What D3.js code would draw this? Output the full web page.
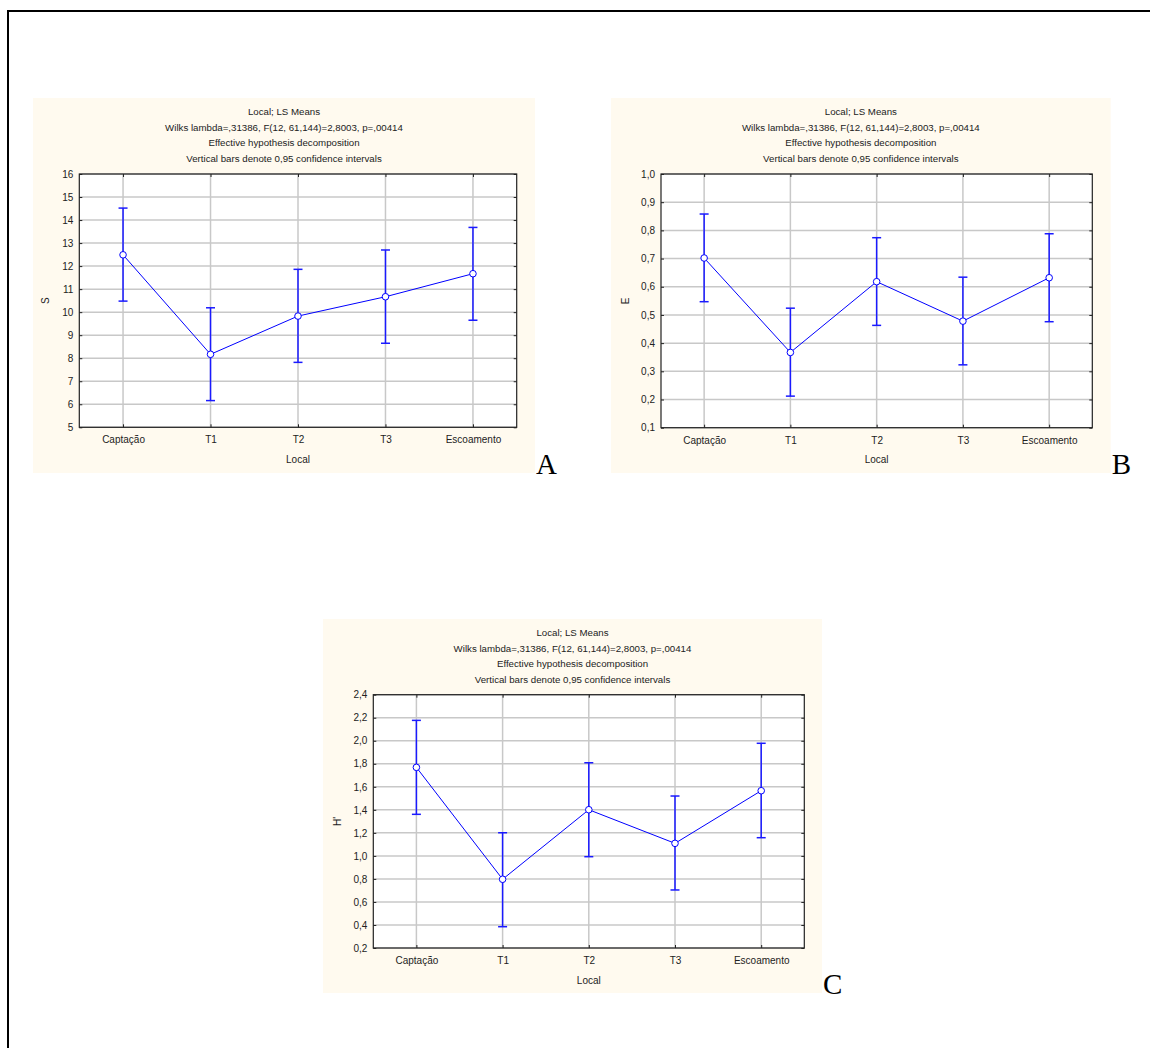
<!DOCTYPE html>
<html>
<head>
<meta charset="utf-8">
<script src="https://cdn.jsdelivr.net/npm/d3@7"></script>
<style>
  html, body { margin: 0; padding: 0; background: #ffffff; }
  svg { display: block; }
  text.sans { font-family: "Liberation Sans", Arial, sans-serif; }
  text.letter { font-family: "Liberation Serif", "Times New Roman", serif; }
</style>
</head>
<body>
<svg id="chart" width="1150" height="1048"></svg>
<script>
// ---- data ----
const categories = ["Captação", "T1", "T2", "T3", "Escoamento"];

const sMean  = [12.49, 8.17, 9.83, 10.67, 11.67];
const sLower = [10.48, 6.16, 7.82, 8.65, 9.65];
const sUpper = [14.52, 10.19, 11.86, 12.70, 13.68];

const eMean  = [0.702, 0.367, 0.618, 0.478, 0.632];
const eLower = [0.547, 0.212, 0.463, 0.323, 0.476];
const eUpper = [0.858, 0.524, 0.774, 0.634, 0.788];

const hMean  = [1.769, 0.797, 1.401, 1.109, 1.566];
const hLower = [1.361, 0.385, 0.993, 0.704, 1.158];
const hUpper = [2.177, 1.201, 1.809, 1.520, 1.978];

const sTicks = [5, 6, 7, 8, 9, 10, 11, 12, 13, 14, 15, 16];
const eTicks = [0.1, 0.2, 0.3, 0.4, 0.5, 0.6, 0.7, 0.8, 0.9, 1.0];
const hTicks = [0.2, 0.4, 0.6, 0.8, 1.0, 1.2, 1.4, 1.6, 1.8, 2.0, 2.2, 2.4];

const titleLines = [
  "Local; LS Means",
  "Wilks lambda=,31386, F(12, 61,144)=2,8003, p=,00414",
  "Effective hypothesis decomposition",
  "Vertical bars denote 0,95 confidence intervals"
];
const xTitle = "Local";

// ---- drawing ----
const svg = d3.select("#chart");

// outer frame
svg.append("path")
  .attr("d", "M8,1060 L8,11 L1160,11")
  .attr("fill", "none").attr("stroke", "#000").attr("stroke-width", 2);

const commaFmt = d => d.toFixed(1).replace(".", ",");

function panel(cfg) {
  const g = svg.append("g");
  // background
  g.append("rect")
    .attr("x", cfg.bg[0]).attr("y", cfg.bg[1])
    .attr("width", cfg.bg[2] - cfg.bg[0]).attr("height", cfg.bg[3] - cfg.bg[1])
    .attr("fill", "#fffaef");
  const cx = (cfg.bg[0] + cfg.bg[2]) / 2;
  titleLines.forEach((t, i) => {
    g.append("text").attr("class", "sans").attr("x", cx).attr("y", cfg.bg[1] + 17 + i * 15.5)
      .attr("text-anchor", "middle").attr("font-size", 9.7).attr("fill", "#222")
      .text(t);
  });

  const [x0, x1, y0, y1] = cfg.plot;
  g.append("rect").attr("x", x0).attr("y", y0)
    .attr("width", x1 - x0).attr("height", y1 - y0).attr("fill", "#fff");

  const x = d3.scalePoint().domain(categories).range([x0, x1]).padding(0.5);
  const y = d3.scaleLinear().domain(cfg.domain).range([y1, y0]);

  // grid
  g.append("g").selectAll("line.h").data(cfg.ticks).join("line")
    .attr("x1", x0).attr("x2", x1)
    .attr("y1", d => y(d)).attr("y2", d => y(d))
    .attr("stroke", "#c8c8c8").attr("stroke-width", 1.5);
  g.append("g").selectAll("line.v").data(categories).join("line")
    .attr("x1", d => x(d)).attr("x2", d => x(d))
    .attr("y1", y0).attr("y2", y1)
    .attr("stroke", "#c8c8c8").attr("stroke-width", 1.5);

  // axes
  const left = g.append("g").attr("transform", `translate(${x0},0)`)
    .call(d3.axisLeft(y).tickValues(cfg.ticks).tickFormat(cfg.fmt).tickSize(-3).tickPadding(6).tickSizeOuter(0));
  const right = g.append("g").attr("transform", `translate(${x1},0)`)
    .call(d3.axisRight(y).tickValues(cfg.ticks).tickFormat("").tickSize(-3).tickSizeOuter(0));
  const bottom = g.append("g").attr("transform", `translate(0,${y1})`)
    .call(d3.axisBottom(x).tickSize(-3).tickPadding(9).tickSizeOuter(0));
  const top = g.append("g").attr("transform", `translate(0,${y0})`)
    .call(d3.axisTop(x).tickFormat("").tickSize(-3).tickSizeOuter(0));
  [left, right, bottom, top].forEach(a => {
    a.selectAll(".domain").remove();
    a.selectAll(".tick line").attr("stroke", "#222");
    a.selectAll("text").attr("class", "sans").attr("font-size", 10).attr("fill", "#222");
  });
  g.append("rect").attr("x", x0).attr("y", y0)
    .attr("width", x1 - x0).attr("height", y1 - y0)
    .attr("fill", "none").attr("stroke", "#222").attr("stroke-width", 1.2);

  // axis titles
  g.append("text").attr("class", "sans").attr("x", (x0 + x1) / 2).attr("y", y1 + 35.5)
    .attr("text-anchor", "middle").attr("font-size", 10).attr("fill", "#222").text(xTitle);
  const ty = (y0 + y1) / 2;
  g.append("text").attr("class", "sans").attr("transform", `translate(${cfg.ytx},${ty}) rotate(-90)`)
    .attr("text-anchor", "middle").attr("font-size", 10).attr("fill", "#222").text(cfg.yTitle);

  // series
  const pts = categories.map((c, i) => ({ c, m: cfg.mean[i], lo: cfg.lower[i], hi: cfg.upper[i] }));
  g.append("path").datum(pts)
    .attr("d", d3.line().x(d => x(d.c)).y(d => y(d.m)))
    .attr("fill", "none").attr("stroke", "#0000ff").attr("stroke-width", 1);
  const eb = g.append("g").attr("stroke", "#1a1aff").attr("stroke-width", 1.5);
  eb.selectAll("line.bar").data(pts).join("line")
    .attr("x1", d => x(d.c)).attr("x2", d => x(d.c))
    .attr("y1", d => y(d.lo)).attr("y2", d => y(d.hi));
  eb.selectAll("line.capU").data(pts).join("line")
    .attr("x1", d => x(d.c) - 4.5).attr("x2", d => x(d.c) + 4.5)
    .attr("y1", d => y(d.hi)).attr("y2", d => y(d.hi));
  eb.selectAll("line.capL").data(pts).join("line")
    .attr("x1", d => x(d.c) - 4.5).attr("x2", d => x(d.c) + 4.5)
    .attr("y1", d => y(d.lo)).attr("y2", d => y(d.lo));
  g.append("g").selectAll("circle").data(pts).join("circle")
    .attr("cx", d => x(d.c)).attr("cy", d => y(d.m)).attr("r", 3.3)
    .attr("fill", "#fff").attr("stroke", "#0000ff").attr("stroke-width", 1);

  // panel letter
  g.append("text").attr("class", "letter").attr("x", cfg.bg[2] + 1).attr("y", cfg.bg[3] + 1)
    .attr("font-size", 29).attr("fill", "#000").text(cfg.letter);
}

panel({
  bg: [33, 98, 535, 473], plot: [79.3, 516.7, 174, 427.3],
  domain: [5, 16], ticks: sTicks, fmt: d3.format("d"),
  mean: sMean, lower: sLower, upper: sUpper,
  yTitle: "S", ytx: 49, letter: "A"
});
panel({
  bg: [611, 98, 1110.7, 473], plot: [661, 1092.3, 174, 427.7],
  domain: [0.1, 1.0], ticks: eTicks, fmt: commaFmt,
  mean: eMean, lower: eLower, upper: eUpper,
  yTitle: "E", ytx: 629, letter: "B"
});
panel({
  bg: [323, 619, 822, 993], plot: [373.3, 804.3, 694.7, 948],
  domain: [0.2, 2.4], ticks: hTicks, fmt: commaFmt,
  mean: hMean, lower: hLower, upper: hUpper,
  yTitle: "H'", ytx: 341, letter: "C"
});
</script>
</body>
</html>
